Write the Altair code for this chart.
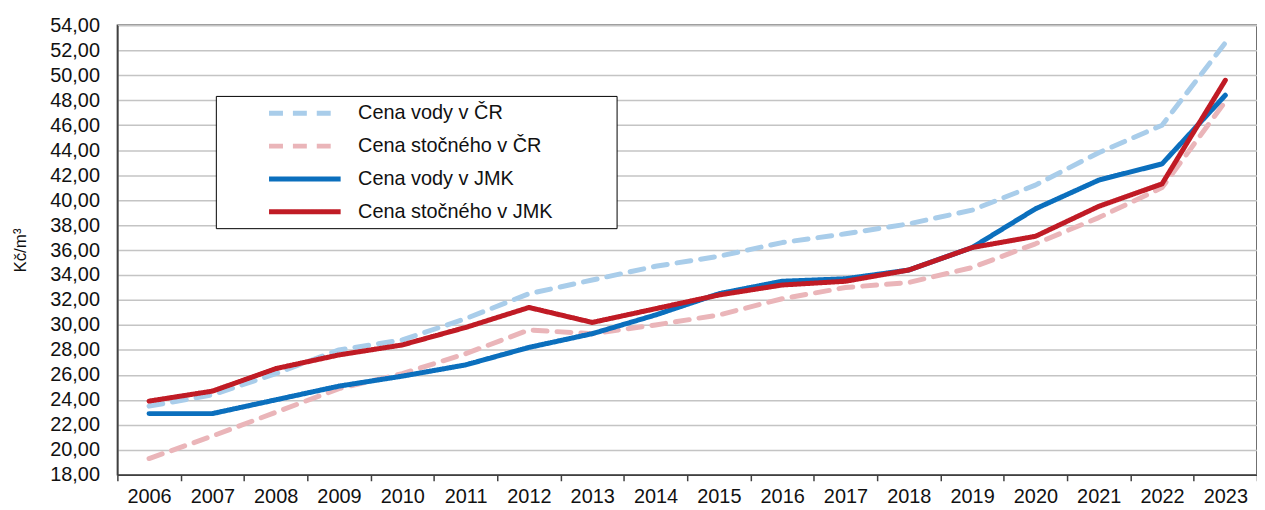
import altair as alt
import pandas as pd

years = [str(y) for y in range(2006, 2024)]
series_names = ["Cena vody v ČR", "Cena stočného v ČR", "Cena vody v JMK", "Cena stočného v JMK"]

voda_cr = [23.5, 24.4, 26.1, 28.0, 28.8, 30.5, 32.5, 33.6, 34.7, 35.5, 36.6, 37.3, 38.1, 39.2, 41.2, 43.8, 46.0, 52.6]
stocne_cr = [19.3, 21.1, 23.0, 24.9, 26.1, 27.7, 29.6, 29.3, 30.0, 30.8, 32.1, 33.0, 33.4, 34.6, 36.5, 38.6, 41.0, 47.9]
voda_jmk = [22.9, 22.9, 24.0, 25.1, 25.9, 26.8, 28.2, 29.3, 30.8, 32.5, 33.5, 33.7, 34.4, 36.2, 39.3, 41.6, 42.9, 48.4]
stocne_jmk = [23.9, 24.7, 26.5, 27.6, 28.4, 29.8, 31.4, 30.2, 31.3, 32.4, 33.2, 33.5, 34.4, 36.2, 37.1, 39.5, 41.3, 49.6]

y_ticks = list(range(18, 56, 2))
colors = ["#A9CDEA", "#EAB5B9", "#0B6FBD", "#C01B25"]
dashes = [[14, 10], [14, 10], [1, 0], [1, 0]]

rows = []
for k, (name, vals) in enumerate(zip(series_names, [voda_cr, stocne_cr, voda_jmk, stocne_jmk])):
    for yr, v in zip(years, vals):
        rows.append({"rok": yr, "serie": name, "cena": v, "poradi": k})
df = pd.DataFrame(rows)

FONT = "Liberation Sans"
FS = 20

legend = alt.Legend(
    title=None,
    orient="none",
    legendX=99,
    legendY=71,
    strokeColor="#000000",
    fillColor="#ffffff",
    padding=6,
    # stroke symbol 72 px long; trailing move-to widens the legend frame
    symbolType="M-4,0L4,0M33,0",
    symbolSize=324,
    symbolStrokeWidth=5,
    symbolOffset=72,
    labelOffset=42,
    labelFontSize=FS,
    labelFont=FONT,
    labelColor="#111111",
    labelLimit=600,
    rowPadding=11,
)

chart = alt.Chart(df).mark_line(strokeWidth=5, strokeCap="round", strokeJoin="round").encode(
    x=alt.X(
        "rok:O",
        bandPosition=0.5,
        scale=alt.Scale(type="band", paddingInner=0, paddingOuter=0),
        axis=alt.Axis(
            title=None, labelAngle=0, tickBand="extent", grid=False,
            domainColor="#404040", domainWidth=1.5, tickColor="#404040", tickWidth=1.5,
            tickSize=6, labelPadding=6, labelFontSize=FS, labelFont=FONT, labelColor="#111111",
        ),
    ),
    y=alt.Y(
        "cena:Q",
        scale=alt.Scale(domain=[18, 54], nice=False, zero=False),
        axis=alt.Axis(
            title="Kč/m³", values=y_ticks,
            labelExpr="replace(format(datum.value, '.2f'), '.', ',')",
            tickSize=0, labelPadding=18, labelFontSize=FS, labelFont=FONT, labelColor="#111111",
            domainColor="#404040", domainWidth=1.5,
            gridColor="#C4C4C4", gridWidth=1.5,
            titleFontSize=17, titleFont=FONT, titleFontWeight="normal", titleColor="#111111",
            titlePadding=20,
        ),
    ),
    color=alt.Color("serie:N", scale=alt.Scale(domain=series_names, range=colors), legend=legend),
    strokeDash=alt.StrokeDash("serie:N", scale=alt.Scale(domain=series_names, range=dashes), legend=legend),
    order=alt.Order("poradi:Q"),
).properties(
    width=1146,
    height=452,
    autosize=alt.AutoSizeParams(type="none"),
    padding={"left": 110, "top": 16, "right": 0, "bottom": 34},
).configure_view(
    stroke="#404040", strokeWidth=1.5
)

chart.save("out.html", embed_options={"renderer": "svg", "actions": False})
